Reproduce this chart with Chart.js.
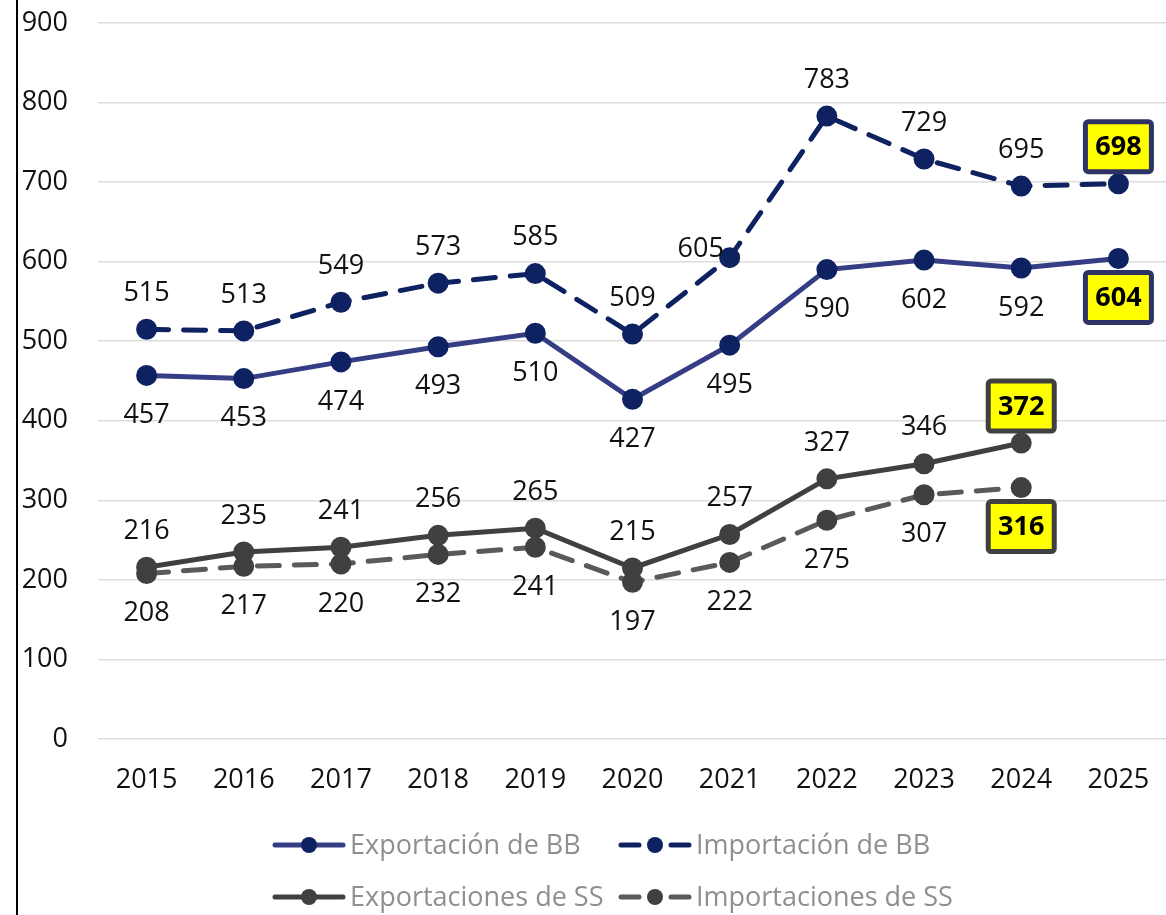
<!DOCTYPE html>
<html>
<head>
<meta charset="utf-8">
<script src="https://cdn.jsdelivr.net/npm/chart.js@4.4.1/dist/chart.umd.min.js"></script>
<style>
html, body { margin: 0; padding: 0; background: #fff; overflow: hidden; }
#wrap { position: relative; width: 1180px; height: 915px; }
</style>
</head>
<body>
<div id="wrap"><canvas id="tradeChart" width="1180" height="915"></canvas></div>
<script>
const years = ['2015', '2016', '2017', '2018', '2019', '2020', '2021', '2022', '2023', '2024', '2025'];
const exportBB = [457, 453, 474, 493, 510, 427, 495, 590, 602, 592, 604];
const importBB = [515, 513, 549, 573, 585, 509, 605, 783, 729, 695, 698];
const exportSS = [216, 235, 241, 256, 265, 215, 257, 327, 346, 372, null];
const importSS = [208, 217, 220, 232, 241, 197, 222, 275, 307, 316, null];
const seriesNames = ['Exportación de BB', 'Importación de BB', 'Exportaciones de SS', 'Importaciones de SS'];
const yMin = 0, yMax = 900, yStep = 100;

const FONT = "'Open Sans', sans-serif";

// draws the value labels, with the last value in a yellow box
const valueLabels = {
    id: 'valueLabels',
    afterDatasetsDraw(chart) {
        const ctx = chart.ctx;
        chart.data.datasets.forEach((ds, di) => {
            const meta = chart.getDatasetMeta(di);
            let last = -1;
            ds.data.forEach((v, i) => { if (v !== null) last = i; });
            meta.data.forEach((pt, i) => {
                const v = ds.data[i];
                if (v === null) return;
                let x = pt.x;
                let y = pt.y + (ds.labelPos === 'above' ? -37 : 39);
                if (di === 1 && i === 6) { x -= 29; y = pt.y - 9; } // label moved off the line
                ctx.save();
                ctx.textAlign = 'center';
                ctx.textBaseline = 'middle';
                if (i === last) {
                    const w = 66, h = 50;
                    ctx.fillStyle = '#FFFF00';
                    ctx.strokeStyle = ds.boxColor;
                    ctx.lineWidth = 5;
                    ctx.beginPath();
                    ctx.roundRect(x - w / 2, y - h / 2, w, h, 3);
                    ctx.fill();
                    ctx.stroke();
                    ctx.fillStyle = '#000';
                    ctx.font = 'bold 27px ' + FONT;
                } else {
                    ctx.fillStyle = '#111';
                    ctx.font = '27px ' + FONT;
                }
                ctx.fillText(String(v), x, y + 1);
                ctx.restore();
            });
        });
    }
};

// left frame line and the two-row legend
const frameAndLegend = {
    id: 'frameAndLegend',
    afterDraw(chart) {
        const ctx = chart.ctx;
        ctx.save();
        ctx.strokeStyle = '#000';
        ctx.lineWidth = 2;
        ctx.beginPath();
        ctx.moveTo(17, 0);
        ctx.lineTo(17, chart.height);
        ctx.stroke();

        const cols = [273, 619];
        const rows = [845, 897];
        chart.data.datasets.forEach((ds, di) => {
            const x0 = cols[di % 2];
            const y = rows[Math.floor(di / 2)];
            ctx.strokeStyle = ds.borderColor;
            ctx.lineWidth = 5;
            ctx.lineCap = 'round';
            ctx.setLineDash([]);
            ctx.beginPath();
            if (ds.borderDash && ds.borderDash.length) {
                ctx.moveTo(x0 + 2, y); ctx.lineTo(x0 + 20, y);
                ctx.moveTo(x0 + 52, y); ctx.lineTo(x0 + 70, y);
            } else {
                ctx.moveTo(x0 + 2, y); ctx.lineTo(x0 + 70, y);
            }
            ctx.stroke();
            ctx.fillStyle = ds.pointBackgroundColor;
            ctx.beginPath();
            ctx.arc(x0 + 36, y, 8, 0, Math.PI * 2);
            ctx.fill();
            ctx.fillStyle = '#8F8F8F';
            ctx.font = '27px ' + FONT;
            ctx.textAlign = 'left';
            ctx.textBaseline = 'middle';
            ctx.fillText(ds.label, x0 + 77, y + 1);
        });
        ctx.restore();
    }
};

function makeSet(label, data, line, point, dashed, labelPos, boxColor) {
    return {
        label: label,
        data: data,
        borderColor: line,
        backgroundColor: point,
        pointBackgroundColor: point,
        pointBorderColor: point,
        pointRadius: 8,
        pointHoverRadius: 8,
        borderWidth: 5,
        borderDash: dashed ? [22, 15] : [],
        borderCapStyle: 'round',
        tension: 0,
        spanGaps: false,
        labelPos: labelPos,
        boxColor: boxColor,
    };
}

const ctx = document.getElementById('tradeChart').getContext('2d');
window.myChart = new Chart(ctx, {
    type: 'line',
    data: {
        labels: years,
        datasets: [
            makeSet(seriesNames[0], exportBB, '#353D84', '#0E2262', false, 'below', '#2E3264'),
            makeSet(seriesNames[1], importBB, '#0E2262', '#0E2262', true, 'above', '#2E3264'),
            makeSet(seriesNames[2], exportSS, '#404040', '#404040', false, 'above', '#404040'),
            makeSet(seriesNames[3], importSS, '#5A5A5A', '#404040', true, 'below', '#404040'),
        ],
    },
    options: {
        responsive: false,
        animation: false,
        devicePixelRatio: 1,
        layout: { padding: { top: 23, right: 4, left: 0, bottom: 0 } },
        plugins: {
            legend: { display: false },
            tooltip: { enabled: false },
        },
        scales: {
            x: {
                offset: true,
                grid: { display: false, drawTicks: false },
                border: { display: false },
                ticks: { color: '#111', font: { family: FONT, size: 27 }, padding: 25, maxRotation: 0 },
                afterFit(scale) { scale.height = 176; },
            },
            y: {
                min: yMin,
                max: yMax,
                grid: { color: '#DDDDDD', lineWidth: 1.5, drawTicks: true, tickLength: 30, tickColor: 'rgba(0,0,0,0)' },
                border: { display: false },
                ticks: { stepSize: yStep, color: '#111', font: { family: FONT, size: 27 }, padding: 0 },
                afterFit(scale) { scale.width = 98; },
            },
        },
    },
    plugins: [valueLabels, frameAndLegend],
});
</script>
</body>
</html>
